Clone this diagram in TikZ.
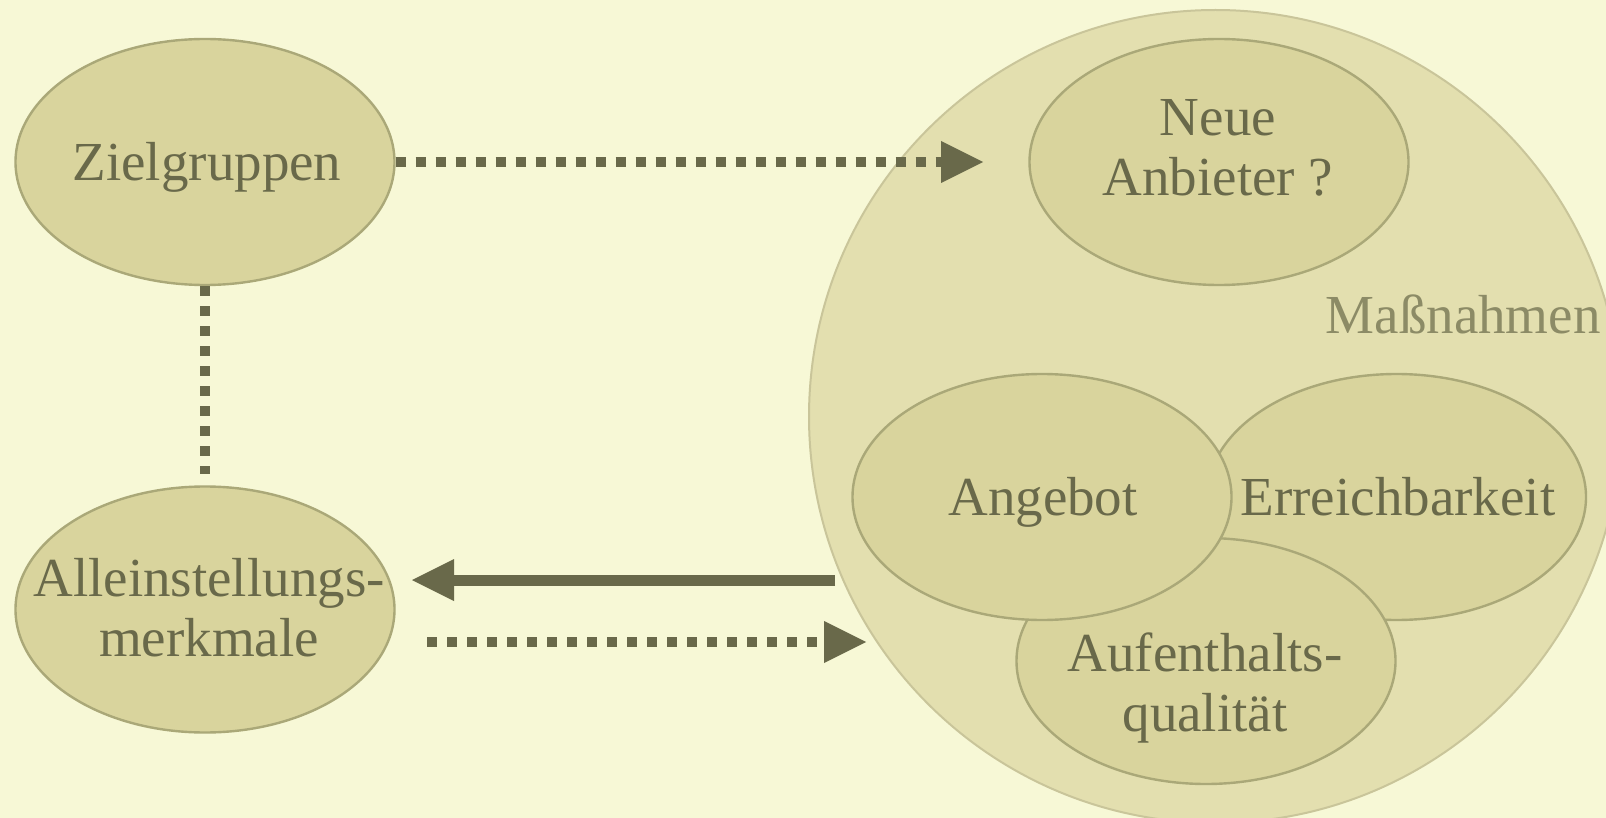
\documentclass[tikz,border=0pt]{standalone}
\usepackage{fontspec}
\setmainfont{Liberation Serif}
\usetikzlibrary{shapes.geometric,arrows.meta,calc}
\definecolor{bg}{HTML}{F7F8D6}
\definecolor{bigfill}{HTML}{E3DFAF}
\definecolor{bigline}{HTML}{C9C59A}
\definecolor{ovalfill}{HTML}{D9D49D}
\definecolor{ovalline}{HTML}{AAA878}
\definecolor{ink}{HTML}{69694A}
\definecolor{soft}{HTML}{8C8B66}
\begin{document}
\begin{tikzpicture}[x=0.5pt,y=-0.5pt,
  oval/.style={ellipse, draw=ovalline, fill=ovalfill, line width=1.2pt,
    minimum width=189.5pt, minimum height=123pt, inner sep=0pt},
  ovaltext/.style={text=ink, inner sep=0pt, font=\fontsize{27.5}{30}\selectfont, align=center},
  dots/.style={draw=ink, line width=5pt, dash pattern=on 5pt off 5pt},
  solidline/.style={draw=ink, line width=5.5pt},
  tip/.style={-{Triangle[length=21pt,width=21pt,line width=0pt]}}
]
\fill[bg] (0,0) rectangle (1606,818);
\useasboundingbox (0,0) rectangle (1606,818);
\node[circle, draw=bigline, fill=bigfill, line width=1pt, minimum size=406.5pt, inner sep=0pt] (massn) at (1215.5,416.5) {};
\node[anchor=base east, text=soft, font=\fontsize{27.5}{30}\selectfont, inner sep=0pt] (mlabel) at (1601,333) {Maßnahmen};
% ellipses
\node[oval] (zg) at (205,162) {};
\node[oval] (am) at (205,609.5) {};
\node[oval] (na) at (1219,162) {};
\node[oval] (er) at (1396.5,497) {};
\node[oval] (au) at (1206,661) {};
\node[oval] (an) at (1042,497) {};
% texts
\node[ovaltext, anchor=base] (zgt) at (207,181) {Zielgruppen};
\node[ovaltext] (amt) at (209,607.7) {Alleinstellungs-\\merkmale};
\node[ovaltext] (nat) at (1218,148.3) {Neue\\Anbieter ?};
\node[ovaltext, anchor=base] (ert) at (1398,515) {Erreichbarkeit};
\node[ovaltext] (aut) at (1205,688) {Aufenthalts-\\qualität};
\node[ovaltext, anchor=base] (ant) at (1043,515) {Angebot};
% connectors
\coordinate (c1) at (983,162);
\coordinate (c2) at (205,474);
\coordinate (c3s) at (835,580);
\coordinate (c3e) at (412,580);
\coordinate (c4s) at (427,642);
\coordinate (c4e) at (866,642);
\draw[dots, tip] (zg.east) -- (c1);
\draw[dots] (zg.south) -- (c2);
\draw[solidline, tip] (c3s) -- (c3e);
\draw[dots, tip] (c4s) -- (c4e);
\end{tikzpicture}
\end{document}
